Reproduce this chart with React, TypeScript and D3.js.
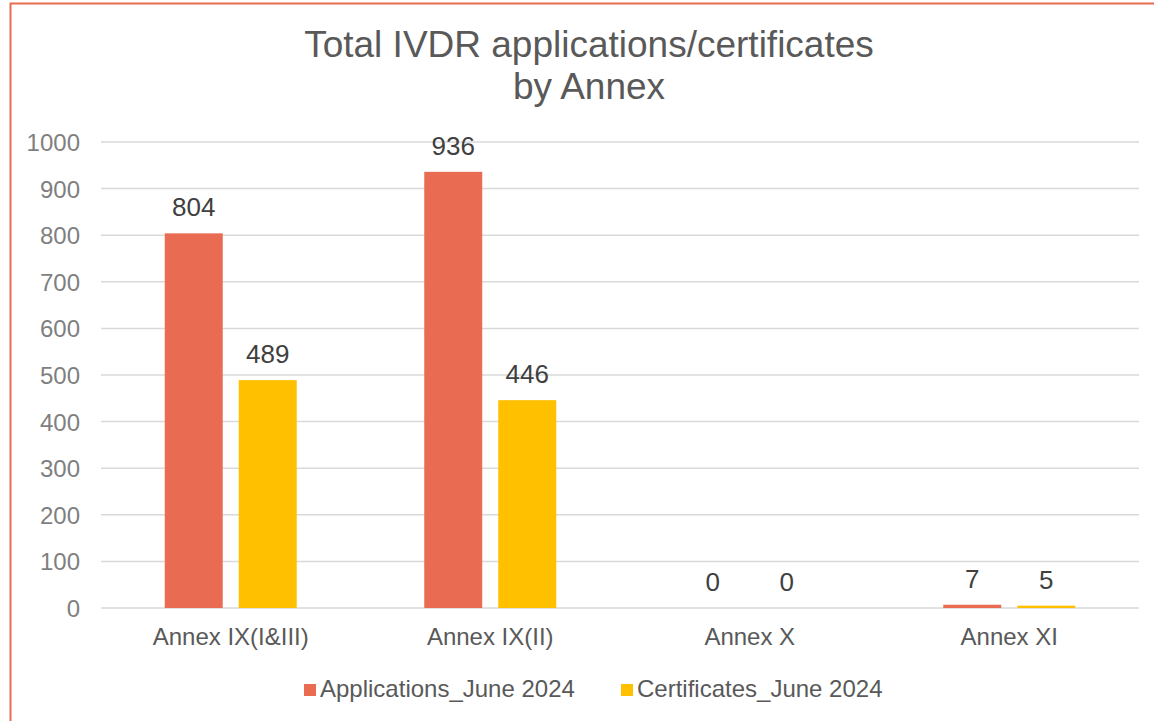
import React from 'react';
import * as d3 from 'd3';

const categories = ['Annex IX(I&III)', 'Annex IX(II)', 'Annex X', 'Annex XI'];
const seriesNames = ['Applications_June 2024', 'Certificates_June 2024'];
const applications = [804, 936, 0, 7];
const certificates = [489, 446, 0, 5];
const yTicks = [0, 100, 200, 300, 400, 500, 600, 700, 800, 900, 1000];

const colors = ['#E96C52', '#FFC000'];
const font = '"Liberation Sans", Arial, sans-serif';

const App = () => {
  const width = 1154;
  const height = 721;
  const left = 101;
  const right = 1139;
  const top = 142;
  const bottom = 608;

  const x = d3.scaleBand().domain(categories).range([left, right]);
  const y = d3.scaleLinear().domain([0, 1000]).range([bottom, top]);
  const barW = 58;
  const gap = 16;

  const series = [applications, certificates];

  return (
    <svg
      width={width}
      height={height}
      style={{ position: 'absolute', left: 0, top: 0, background: '#fff' }}
      fontFamily={font}
    >
      <rect x={10.5} y={3.5} width={1170} height={740} fill="#fff" stroke="#E96C52" strokeWidth={2} />

      <text x={589} y={57} textAnchor="middle" fontSize={37} fill="#595959">
        Total IVDR applications/certificates
      </text>
      <text x={589} y={99} textAnchor="middle" fontSize={37} fill="#595959">
        by Annex
      </text>

      {/* gridlines and y labels */}
      {yTicks.map((t) => (
        <g key={t}>
          <line x1={left} x2={right} y1={y(t)} y2={y(t)} stroke="#D9D9D9" strokeWidth={1.5} />
          <text x={80} y={y(t) + 9} textAnchor="end" fontSize={24} fill="#7F7F7F">
            {t}
          </text>
        </g>
      ))}

      {/* bars */}
      {categories.map((c, i) => {
        const cx = (x(c) as number) + x.bandwidth() / 2;
        return (
          <g key={c}>
            {series.map((s, j) => {
              const bx = j === 0 ? cx - gap / 2 - barW : cx + gap / 2;
              const v = s[i];
              return (
                <g key={j}>
                  <rect x={bx} y={y(v)} width={barW} height={bottom - y(v)} fill={colors[j]} />
                  <text x={bx + barW / 2} y={y(v) - 17} textAnchor="middle" fontSize={26} fill="#404040">
                    {v}
                  </text>
                </g>
              );
            })}
            <text x={cx} y={645} textAnchor="middle" fontSize={24} fill="#595959">
              {c}
            </text>
          </g>
        );
      })}

      {/* legend */}
      {seriesNames.map((n, j) => {
        const lx = j === 0 ? 304 : 621;
        return (
          <g key={n}>
            <rect x={lx} y={684} width={12} height={12} fill={colors[j]} />
            <text x={lx + 16} y={697} fontSize={24} fill="#595959">
              {n}
            </text>
          </g>
        );
      })}
    </svg>
  );
};

export default App;
